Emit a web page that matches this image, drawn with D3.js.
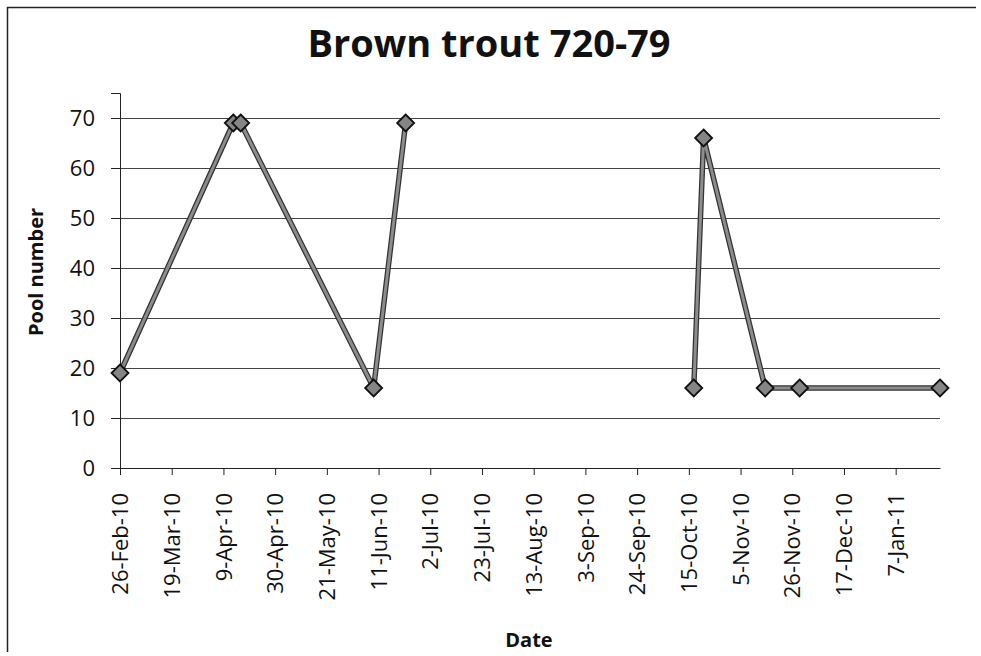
<!DOCTYPE html>
<html>
<head>
<meta charset="utf-8">
<script src="https://cdn.jsdelivr.net/npm/d3@7"></script>
<style>
  body { margin: 0; background: #fff; }
  text { font-family: "Open Sans", sans-serif; fill: #111; }
</style>
</head>
<body>
<div id="chart"></div>
<script>
// survey dates and the pool the fish was found in
var sampleDates = ["2010-02-26", "2010-04-13", "2010-04-16", "2010-06-09", "2010-06-22",
                   "2010-10-17", "2010-10-21", "2010-11-15", "2010-11-29", "2011-01-25"];
var poolNumbers = [19, 69, 69, 16, 69, 16, 66, 16, 16, 16];
// the line is broken between the summer and autumn runs (empty cells)
var runs = [1, 1, 1, 1, 1, 2, 2, 2, 2, 2];
var yTicks = [0, 10, 20, 30, 40, 50, 60, 70];

var W = 981, H = 656;
var margin = { top: 93, right: 41, bottom: 188, left: 120 };
var width = W - margin.left - margin.right,
  height = H - margin.top - margin.bottom;

var parse = d3.timeParse("%Y-%m-%d");
var data = sampleDates.map(function (d, i) {
  return { date: parse(d), pool: poolNumbers[i], run: runs[i] };
});

var svg = d3.select("#chart").append("svg")
  .attr("width", W).attr("height", H);

// frame (scan shows left and top edges)
svg.append("line").attr("x1", 7.5).attr("x2", 7.5).attr("y1", 7).attr("y2", 652)
  .attr("stroke", "#222").attr("stroke-width", 1.5);
svg.append("line").attr("x1", 7).attr("x2", 976).attr("y1", 7.5).attr("y2", 7.5)
  .attr("stroke", "#222").attr("stroke-width", 1.5);

var g = svg.append("g")
  .attr("transform", "translate(" + margin.left + "," + margin.top + ")");

var x = d3.scaleTime()
  .domain(d3.extent(data, function (d) { return d.date; }))
  .range([0, width]);

var y = d3.scaleLinear().domain([0, 75]).range([height, 0]);

// gridlines
g.selectAll(".grid").data(yTicks).enter().append("line")
  .attr("class", "grid")
  .attr("x1", 0).attr("x2", width)
  .attr("y1", function (d) { return Math.round(y(d)) + 0.5; })
  .attr("y2", function (d) { return Math.round(y(d)) + 0.5; })
  .attr("stroke", "#444").attr("stroke-width", 1);

// y axis
var yAxis = g.append("g")
  .call(d3.axisLeft(y).tickValues(yTicks).tickSize(9).tickPadding(16).tickFormat(d3.format("d")));
yAxis.selectAll("text").style("font-size", "22px");
yAxis.selectAll("line, path").attr("stroke", "#222");

// x axis, ticks every 21 days from the first survey
var start = x.domain()[0], end = x.domain()[1];
var xTicks = d3.timeDay.range(start, end, 21);
var xAxis = g.append("g")
  .attr("transform", "translate(0," + height + ")")
  .call(d3.axisBottom(x).tickValues(xTicks).tickSize(7).tickSizeOuter(0)
    .tickFormat(d3.timeFormat("%-d-%b-%y")));
xAxis.selectAll("line, path").attr("stroke", "#222");
xAxis.selectAll("text")
  .style("font-size", "22px")
  .attr("text-anchor", "end")
  .attr("transform", "rotate(-90)")
  .attr("x", -25)
  .attr("y", 0)
  .attr("dy", "0.35em");

// line: dark edge with grey core, one path per run
var line = d3.line()
  .x(function (d) { return x(d.date); })
  .y(function (d) { return y(d.pool); });

var groups = d3.groups(data, function (d) { return d.run; }).map(function (d) { return d[1]; });

g.selectAll(".edge").data(groups).enter().append("path")
  .attr("class", "edge")
  .attr("d", line).attr("fill", "none")
  .attr("stroke", "#333").attr("stroke-width", 5.5).attr("stroke-linejoin", "round");
g.selectAll(".core").data(groups).enter().append("path")
  .attr("class", "core")
  .attr("d", line).attr("fill", "none")
  .attr("stroke", "#8c8c8c").attr("stroke-width", 3).attr("stroke-linejoin", "round");

// diamond markers
var r = 8.5;
g.selectAll(".marker").data(data).enter().append("path")
  .attr("class", "marker")
  .attr("transform", function (d) { return "translate(" + x(d.date) + "," + y(d.pool) + ")"; })
  .attr("d", "M0," + (-r) + "L" + r + ",0L0," + r + "L" + (-r) + ",0Z")
  .attr("fill", "#858585").attr("stroke", "#111").attr("stroke-width", 1.8);

// title
svg.append("text")
  .attr("x", 489).attr("y", 57)
  .attr("text-anchor", "middle")
  .style("font-size", "38px").style("font-weight", "bold")
  .text("Brown trout 720-79");

// axis titles
svg.append("text")
  .attr("x", 529).attr("y", 647)
  .attr("text-anchor", "middle")
  .style("font-size", "20px").style("font-weight", "bold")
  .text("Date");

svg.append("text")
  .attr("transform", "translate(43,272) rotate(-90)")
  .attr("text-anchor", "middle")
  .style("font-size", "20px").style("font-weight", "bold")
  .text("Pool number");
</script>
</body>
</html>
